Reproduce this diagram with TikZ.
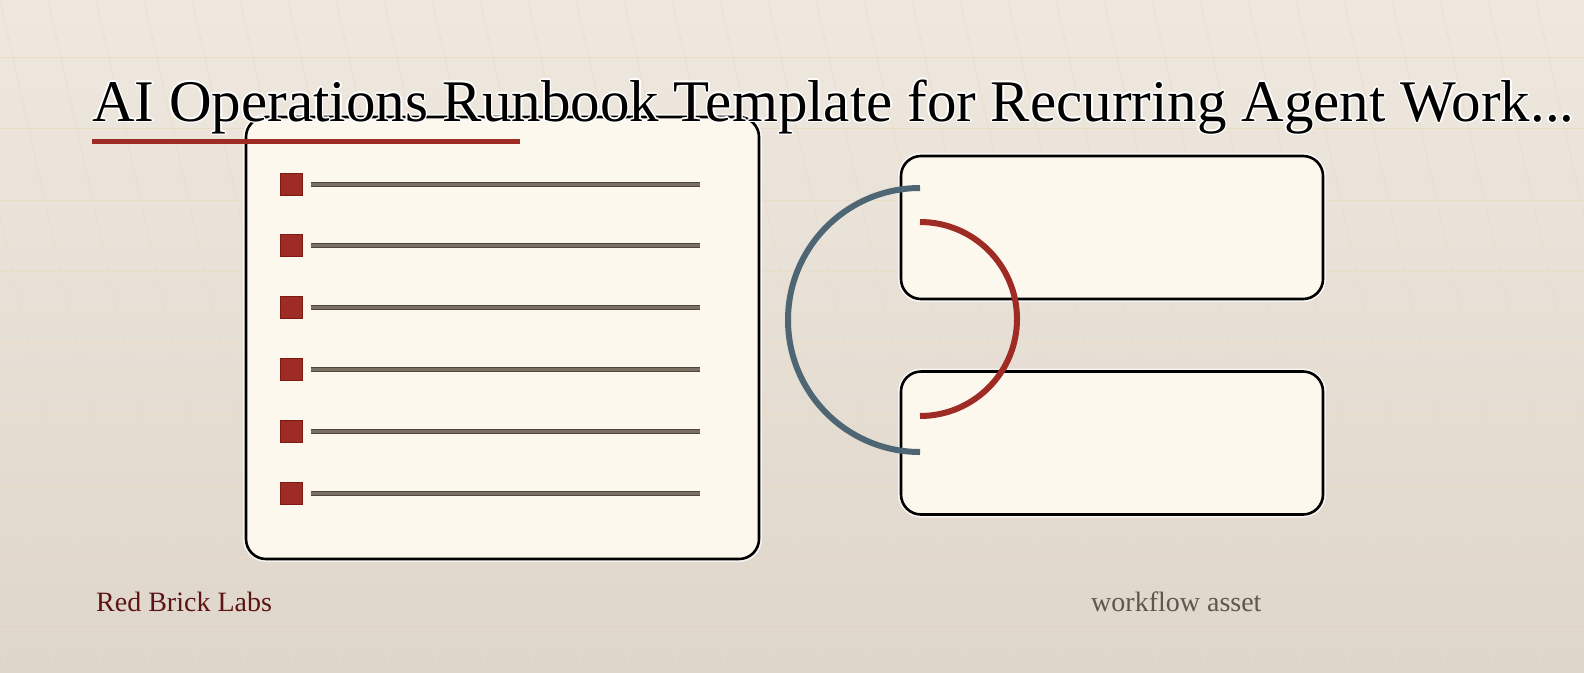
\documentclass[tikz,border=0pt]{standalone}
\usepackage{fontspec}
\setmainfont{Liberation Serif}
\definecolor{bgtop}{HTML}{EFE8DF}
\definecolor{bgbot}{HTML}{DED6CA}
\definecolor{gridc}{HTML}{EBDCC3}
\definecolor{cardfill}{HTML}{FDF8EE}
\definecolor{brick}{HTML}{9E2B24}
\definecolor{brickdark}{HTML}{7E1A14}
\definecolor{slate}{HTML}{4E6674}
\definecolor{rulec}{HTML}{7A7064}
\definecolor{ruledark}{HTML}{4F463C}
\definecolor{footred}{HTML}{5C1414}
\definecolor{footgray}{HTML}{5F564D}
\tikzset{
  card/.style={draw=black, line width=2.6pt, fill=cardfill, rounded corners=20pt, inner sep=0pt},
  cardhalo/.style={draw=white, line width=6pt, rounded corners=20pt, inner sep=0pt, opacity=0.7},
  bullet/.style={draw=brickdark, line width=1pt, fill=brick, minimum size=22pt, inner sep=0pt},
  itemrule/.style={draw=rulec, line width=3pt, preaction={draw=ruledark, line width=5pt}},
  arcline/.style={line width=6pt},
  titletext/.style={font=\fontsize{59}{62}\selectfont, inner sep=0pt, anchor=base west},
  foot/.style={font=\fontsize{28}{32}\selectfont, inner sep=0pt, anchor=base west},
}
\begin{document}
\begin{tikzpicture}[x=1pt,y=-1pt]
\useasboundingbox (0,0) rectangle (1584,672);
% background
\shade[top color=bgtop, bottom color=bgbot] (0,0) rectangle (1584,672);
\begin{scope}
\clip (0,0) rectangle (1584,672);
\foreach \k in {0,...,8} {
  \draw[gridc, line width=0.8pt, opacity=0.8] (0,57+71.5*\k) -- (1584,57+71.5*\k);
}
\foreach \k in {-4,...,33} {
  \draw[gridc, line width=0.7pt, opacity=0.8] (48*\k,0) -- (48*\k+150,672);
}
\end{scope}
% checklist card
\node[cardhalo, minimum width=513pt, minimum height=442pt] at (502.5,338) {};
\node[card, minimum width=513pt, minimum height=442pt] (list) at (502.5,338) {};
\foreach \i in {0,...,5} {
  \node[bullet] (sq\i) at (291,184+61.9*\i) {};
  \coordinate (re\i) at (700,184+61.9*\i);
  \draw[itemrule] ([xshift=8pt]sq\i.east) -- (re\i);
}
% right cards
\node[cardhalo, minimum width=422pt, minimum height=143pt] at (1112,227.5) {};
\node[cardhalo, minimum width=422pt, minimum height=143pt] at (1112,443) {};
\node[card, minimum width=422pt, minimum height=143pt] (top) at (1112,227.5) {};
\node[card, minimum width=422pt, minimum height=143pt] (bot) at (1112,443) {};
% arcs
\coordinate (bs) at (920,188);
\coordinate (rs) at (920,222);
\draw[arcline, draw=slate] (bs) arc[start angle=90, end angle=270, radius=132pt];
\draw[arcline, draw=brick] (rs) arc[start angle=90, end angle=-90, radius=97pt];
% title
\foreach \dx/\dy in {1.5/0,-1.5/0,0/1.5,0/-1.5,1/1,-1/-1,1/-1,-1/1} {
  \node[titletext, text=white] at (92+\dx,121+\dy) {AI Operations Runbook Template for Recurring Agent Work...};
}
\node[titletext, text=black] (title) at (92,121) {AI Operations Runbook Template for Recurring Agent Work...};
\coordinate (ulend) at (520,141);
\draw[brick, line width=5pt] (92,141) -- (ulend);
% footer
\node[foot, text=footred] (brand) at (96,611) {Red Brick Labs};
\node[foot, text=footgray] (tag) at (1091,611) {workflow asset};
\end{tikzpicture}
\end{document}
